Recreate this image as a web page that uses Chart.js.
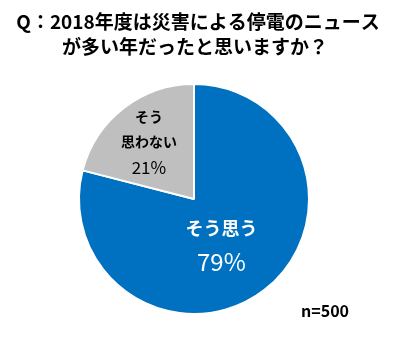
<!DOCTYPE html>
<html><head><meta charset="utf-8">
<script src="https://cdn.jsdelivr.net/npm/chart.js@4.4.0/dist/chart.umd.min.js"></script>
<style>html,body{margin:0;padding:0;background:#fff;}#wrap{width:400px;height:337px;position:relative;}</style>
</head><body><div id="wrap"><canvas id="c" width="400" height="337"></canvas></div>
<script>
const titleLines = ['Q：2018年度は災害による停電のニュース', 'が多い年だったと思いますか？'];
const categories = ['そう思う', 'そう思わない'];
const labelLines = [['そう思う'], ['そう', '思わない']];
const values = [79, 21];
const colors = ['#0070C0', '#BFBFBF'];
const sampleNote = 'n=500';
const FONT = '"Noto Sans CJK JP", "Noto Sans", sans-serif';

const textPlugin = {
  id: 'texts',
  afterDraw(chart) {
    const ctx = chart.ctx;
    ctx.save();
    ctx.textAlign = 'center';
    ctx.textBaseline = 'middle';
    ctx.fillStyle = '#000';
    ctx.font = 'bold 19px ' + FONT;
    ctx.fillText(titleLines[0], 198, 22);
    ctx.fillText(titleLines[1], 195, 47);
    ctx.font = 'bold 16px ' + FONT;
    ctx.fillText(sampleNote, 325, 311);
    const meta = chart.getDatasetMeta(0);
    meta.data.forEach((arc, i) => {
      const p = arc.getProps(['x','y','startAngle','endAngle','outerRadius'], true);
      const mid = (p.startAngle + p.endAngle) / 2;
      if (i === 0) {
        const r = p.outerRadius * 0.46;
        const cx = p.x + Math.cos(mid) * r - 5, cy = p.y + Math.sin(mid) * r;
        ctx.fillStyle = '#fff';
        ctx.font = 'bold 18px ' + FONT;
        ctx.fillText(labelLines[0][0], cx, cy - 13);
        ctx.font = '24px ' + FONT;
        ctx.fillText(values[0] + '%', cx, cy + 21);
      } else {
        const r = p.outerRadius * 0.64;
        const cx = p.x + Math.cos(mid) * r, cy = p.y + Math.sin(mid) * r;
        ctx.fillStyle = '#000';
        ctx.font = 'bold 14px ' + FONT;
        ctx.fillText(labelLines[1][0], cx, cy - 24);
        ctx.fillText(labelLines[1][1], cx, cy + 1);
        ctx.font = '17px ' + FONT;
        ctx.fillText(values[1] + '%', cx, cy + 27);
      }
    });
    ctx.restore();
  }
};

new Chart(document.getElementById('c'), {
  type: 'pie',
  data: {
    labels: categories,
    datasets: [{
      data: values,
      backgroundColor: colors,
      borderColor: '#fff',
      borderWidth: 2,
      hoverOffset: 0,
      offset: 0
    }]
  },
  options: {
    responsive: false,
    animation: false,
    layout: { padding: { top: 83, bottom: 22, left: 78, right: 90 } },
    plugins: { legend: { display: false }, tooltip: { enabled: false }, title: { display: false } }
  },
  plugins: [textPlugin]
});
</script></body></html>
